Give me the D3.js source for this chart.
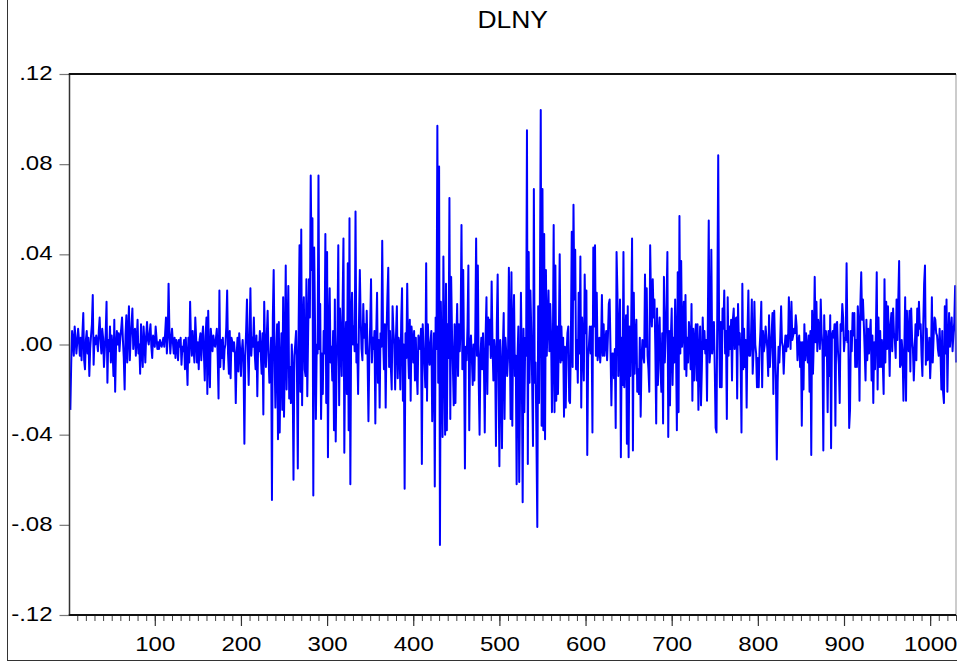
<!DOCTYPE html>
<html>
<head>
<meta charset="utf-8">
<script src="https://cdn.jsdelivr.net/npm/d3@7"></script>
<style>
  body { margin: 0; background: #fff; }
  svg text { font-family: "Liberation Sans", Arial, sans-serif; fill: #000; }
</style>
</head>
<body>
<svg id="chart" width="957" height="663"></svg>
<script>
// DLNY, observations 2..1030 (obs 1 is lost to differencing)
const firstObs = 2;
const lastObs = 1030;
const dlny = [
  -.029,-.008,.006,.002,-.005,.008,.003,-.004,.001,.007,
  .002,-.005,.003,-.007,.005,.014,-.007,-.011,.002,.006,
  -.004,.003,-.014,-.002,.004,.009,.022,-.009,.003,0,
  .004,.001,-.003,.006,.012,.002,-.004,.007,.003,-.010,
  -.002,.005,.019,-.017,.002,-.003,.008,-.008,.004,-.002,
  -.014,.011,-.021,-.001,.006,0,.005,-.003,.003,.007,
  .012,.002,-.006,-.020,.004,.013,-.008,.005,.017,-.007,
  .003,.009,.016,-.002,.004,.007,-.005,.002,.011,-.004,
  0,-.013,.009,-.003,-.010,.008,.001,-.008,.004,.010,
  .002,0,.005,.009,-.001,-.006,.004,.002,-.001,.008,
  .003,-.002,.001,-.002,.002,0,-.001,.001,.003,-.001,
  .005,.012,-.004,.003,.027,.006,-.004,.002,.007,.001,
  -.004,.003,-.006,.002,0,-.007,.002,-.001,.003,-.009,
  -.001,-.003,.002,-.011,.003,-.006,-.018,.003,-.008,.019,
  .002,-.005,.006,-.002,-.008,.012,.003,-.008,.001,-.011,
  .002,.005,-.007,.003,.008,-.004,-.016,.004,.012,-.022,
  .015,-.006,-.019,.007,.002,-.003,.004,0,-.001,.003,
  .007,-.005,-.024,.024,-.010,.002,-.006,.003,-.011,-.002,
  0,.008,.024,-.004,-.013,.006,-.015,.003,.001,-.003,
  .001,-.004,-.026,-.005,.003,-.012,.005,-.002,-.014,-.003,
  .002,-.008,-.044,-.005,.006,.020,-.003,-.018,.004,.025,
  -.005,.003,-.001,.012,-.004,-.011,.004,-.023,.001,-.003,
  .006,-.004,-.013,.005,-.031,.019,-.002,-.010,.004,.015,
  -.005,-.017,-.008,.003,-.069,.012,.033,-.005,-.028,-.004,
  .009,-.042,.010,-.039,-.009,.005,-.029,.021,-.032,-.004,
  .035,-.020,.004,.026,-.024,-.010,-.026,0,-.013,-.060,
  -.005,0,.006,-.012,-.055,.010,.044,-.021,.051,-.027,
  .008,.021,-.011,-.014,.029,-.023,.005,.029,.012,.075,
  .033,.056,-.067,.043,.009,-.033,0,-.004,.075,-.002,
  .018,-.033,-.004,-.022,.006,-.004,.049,-.026,.041,-.050,
  .006,.025,-.008,-.001,-.016,.006,-.038,.020,-.043,-.010,
  .005,.044,-.027,.016,.002,-.014,.017,.047,-.048,-.002,
  .010,-.022,.036,-.038,.056,-.062,.012,.023,0,.008,
  -.003,.059,-.008,0,-.022,.010,.033,.011,-.002,-.007,
  .018,.003,.009,-.004,.015,-.006,-.034,-.005,.008,.029,
  -.008,.003,-.002,.006,-.035,.004,.023,-.017,.002,-.028,
  .005,-.001,.046,.003,-.011,.009,-.028,.005,.021,.034,
  -.010,.006,-.010,-.020,.017,.006,0,-.020,.004,.017,
  -.015,.003,0,-.020,.010,.025,-.025,0,-.064,.005,
  -.006,.027,-.002,-.015,.011,-.025,.008,.002,-.008,.006,
  -.016,.003,-.012,-.022,.004,.001,-.002,.007,-.053,.009,
  -.002,-.008,-.019,.036,-.025,.009,-.003,-.009,.001,.006,
  -.034,-.011,.005,-.063,.012,-.002,.097,-.017,.079,-.089,
  .019,-.005,-.041,.039,-.003,-.040,.027,-.038,.009,-.006,
  .065,-.033,.030,.005,-.010,-.027,.009,-.026,.002,.018,
  -.014,.009,-.003,.009,.053,-.011,.033,-.008,-.055,-.001,
  -.007,.008,.035,-.038,-.002,.004,-.006,-.018,0,-.016,
  .006,.047,-.005,.035,-.016,-.040,-.005,.003,-.011,.005,
  -.008,-.039,.004,.021,-.022,.012,0,.011,-.006,.028,
  0,-.016,.002,-.004,-.045,.009,.031,-.014,-.054,.002,
  -.010,-.046,-.002,.014,-.033,.003,-.004,-.014,-.006,.034,
  .005,-.033,.032,-.036,.008,.022,-.014,-.005,-.062,-.006,
  .008,-.061,-.020,.023,-.010,-.070,.007,-.030,.003,-.005,
  .095,-.053,.041,-.017,.024,.006,-.016,-.045,.069,-.017,
  -.008,-.042,-.081,.017,-.026,.020,.104,-.036,.069,-.038,
  .049,-.042,.033,-.005,.010,.024,-.003,.018,.004,-.030,
  -.005,.053,-.030,.035,-.025,.008,-.022,.003,.040,-.008,
  .008,-.007,.003,-.032,-.001,-.028,-.004,.005,.008,-.025,
  -.026,.003,.050,-.010,.062,.020,.042,-.011,.002,-.017,
  .023,-.004,.039,-.028,.012,0,-.016,.031,.005,.024,
  -.049,-.006,0,.008,-.004,.008,-.039,.043,.008,.044,
  -.005,.023,-.007,-.003,.003,-.008,-.001,.022,-.005,.009,
  -.005,.002,.006,-.007,.004,.018,.020,-.003,-.027,-.004,
  -.004,-.015,-.002,-.037,.041,.023,-.014,.005,.020,-.050,
  .003,-.018,.041,-.019,.002,.013,-.044,.017,-.050,.008,
  -.014,.010,.047,-.047,.023,-.013,.003,.011,-.021,-.011,
  -.022,.003,-.032,-.006,.002,-.005,-.008,.031,-.001,.025,
  -.005,-.011,-.021,.044,.019,.008,.029,.012,.020,-.002,
  -.035,.016,-.018,.004,.012,-.011,-.021,.005,-.035,.030,
  -.008,.004,.018,.041,-.041,.006,-.027,.003,.016,-.018,
  .003,-.008,.020,0,-.038,.032,-.030,.057,-.004,.037,
  -.001,.005,.019,-.011,.022,-.014,.003,-.008,.010,.004,
  -.011,.018,-.025,.007,-.016,.002,.009,-.016,.009,-.029,
  -.004,.008,-.027,-.011,.012,-.002,.006,-.004,.002,-.025,
  .013,.055,-.008,-.002,.042,-.004,.003,.010,-.011,-.037,
  -.039,.020,.084,.009,-.019,.010,-.019,.016,.007,.024,
  -.004,.006,-.033,.021,-.005,.008,-.002,.011,-.016,.011,
  .016,-.002,.011,.012,-.024,.018,0,.005,-.006,-.039,
  .027,-.011,.007,-.010,.002,-.028,.006,.024,-.005,-.005,
  .003,.020,-.013,-.003,.019,0,-.004,-.019,-.006,-.019,
  -.002,.006,.019,-.019,.006,-.003,0,.008,.003,-.002,
  -.014,.013,-.010,-.002,.005,.014,-.022,.015,-.001,-.016,
  -.051,-.017,-.001,-.008,.003,.017,.001,-.001,-.013,-.002,
  .004,-.003,.004,-.001,.021,.007,-.002,.019,.002,.004,
  .007,.005,.013,.008,-.007,.001,.004,-.010,.001,-.036,
  .001,-.020,.009,-.007,.005,-.002,-.008,.004,-.021,.006,
  -.049,.015,-.013,.002,.030,.001,.019,-.003,.011,.006,
  -.002,.020,.005,-.001,-.047,.013,-.005,.006,.002,-.030,
  .006,-.014,.013,-.046,.004,.006,.003,.009,-.036,.009,
  .010,-.003,-.009,-.026,.009,.006,.018,.012,-.003,.003,
  .002,.036,.001,.006,-.037,-.029,.006,-.003,.014,.004,
  .014,-.010,.002,-.010,.017,.009,-.025,.018,.032,.011,
  .020,.009,-.003,-.016,.011,-.007,.007,-.004,.005,.011,
  -.016,.004,-.026,.001,-.011,.005,.032,-.020,.012,-.010,
  .006,-.010,.002,-.008,-.022,.029,-.008,.019,-.002,.017,
  .005,-.014,.009,.014,-.003,.016,.005,.002,-.006,.020,
  .002,.020,.037,-.010,-.009,.002,-.004,-.025,-.002,.021,
  -.025,.015,.004,-.003,.015,-.012,.016,.003,-.002,-.016,
  -.004,.009,-.007,.016,.004,.019,.007,.009,-.005,-.014,
  .009,.027,.035,-.009,.007,-.007,-.005,.003,-.015,-.005,
  .021,-.008,.003,.012,.011,.005,.004,-.002,-.005,.007,
  -.003,-.020,.006,-.021,-.026,.017,-.004,.020,-.021,.001,
  .014,-.001,.006,.012,-.003,.005,.010,.026,-.008
];

const yTicks = [.12, .08, .04, 0, -.04, -.08, -.12];
const yTickLabels = [".12", ".08", ".04", ".00", "-.04", "-.08", "-.12"];
const xMajorTicks = [100, 200, 300, 400, 500, 600, 700, 800, 900, 1000];
const xMinorTicks = d3.range(10, lastObs + 1, 10);
const title = "DLNY";

const svg = d3.select("#chart");
const plot = {left: 69.5, right: 956, top: 74, bottom: 615};

// outer window frame
svg.append("rect")
    .attr("x", 7.5).attr("y", -5)
    .attr("width", 960).attr("height", 665.5)
    .attr("fill", "none").attr("stroke", "#333").attr("stroke-width", 1);

const x = d3.scaleLinear().domain([1, lastObs]).range([plot.left, plot.right]);
const y = d3.scaleLinear().domain([-.12, .12]).range([plot.bottom, plot.top]);

// y axis: ticks outside with labels
const yAxis = svg.append("g")
    .attr("transform", `translate(${plot.left},0)`)
    .call(d3.axisLeft(y).tickValues(yTicks).tickSize(10).tickPadding(7)
        .tickFormat((d, i) => yTickLabels[i]));
yAxis.select(".domain").remove();
yAxis.selectAll(".tick line").attr("stroke", "#777").attr("stroke-width", 1.2);
yAxis.selectAll(".tick text")
    .attr("font-size", 20)
    .attr("dy", "0.28em")
    .attr("transform", function() {
        const tx = +d3.select(this).attr("x");
        return `translate(${tx},0) scale(1.2,1)`;
    })
    .attr("x", 0);

// x axis: minor and major ticks hanging below
const xMinor = svg.append("g")
    .attr("transform", `translate(0,${plot.bottom})`)
    .call(d3.axisBottom(x).tickValues(xMinorTicks).tickSize(6).tickFormat(""));
xMinor.select(".domain").remove();
xMinor.selectAll(".tick line").attr("stroke", "#444").attr("stroke-width", 1);

const xMajor = svg.append("g")
    .attr("transform", `translate(0,${plot.bottom})`)
    .call(d3.axisBottom(x).tickValues(xMajorTicks).tickSize(11).tickPadding(11).tickFormat(d3.format("d")));
xMajor.select(".domain").remove();
xMajor.selectAll(".tick line").attr("stroke", "#333").attr("stroke-width", 1.2);
xMajor.selectAll(".tick text")
    .attr("font-size", 20)
    .attr("dy", "0.71em")
    .attr("transform", "scale(1.2,1)")
    .attr("x", 0);

// the series
const line = d3.line()
    .x((d, i) => x(firstObs + i))
    .y(d => y(d));

svg.append("path")
    .datum(dlny)
    .attr("d", line)
    .attr("fill", "none")
    .attr("stroke", "#0000ff")
    .attr("stroke-width", 2)
    .attr("stroke-linejoin", "round");

// plot frame
svg.append("line").attr("x1", plot.right).attr("x2", plot.right)
    .attr("y1", plot.top).attr("y2", plot.bottom)
    .attr("stroke", "#999").attr("stroke-width", 1);
svg.append("line").attr("x1", plot.left).attr("x2", plot.left)
    .attr("y1", plot.top).attr("y2", plot.bottom)
    .attr("stroke", "#333").attr("stroke-width", 1.5);
svg.append("line").attr("x1", plot.left - 0.75).attr("x2", plot.right)
    .attr("y1", plot.top).attr("y2", plot.top)
    .attr("stroke", "#111").attr("stroke-width", 2);
svg.append("line").attr("x1", plot.left - 0.75).attr("x2", plot.right)
    .attr("y1", plot.bottom).attr("y2", plot.bottom)
    .attr("stroke", "#111").attr("stroke-width", 2);

// title
svg.append("text")
    .attr("transform", `translate(${(plot.left + plot.right) / 2},28) scale(1.15,1)`)
    .attr("text-anchor", "middle")
    .attr("font-size", 23)
    .text(title);
</script>
</body>
</html>
